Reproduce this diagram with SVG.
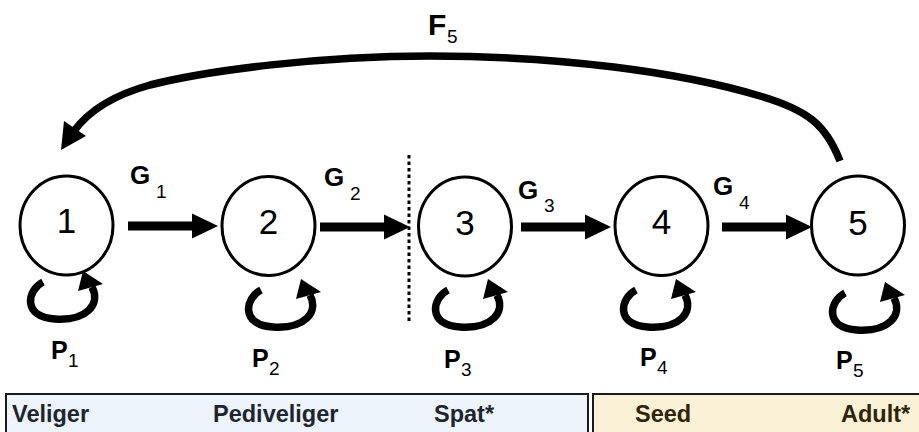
<svg xmlns="http://www.w3.org/2000/svg" xmlns:xlink="http://www.w3.org/1999/xlink" width="919" height="432" viewBox="0 0 919 432">
  <style>
    .node ellipse { fill: #fff; stroke: #000; stroke-width: 3; }
    .node text { font-family: "Liberation Sans", Arial, sans-serif; font-size: 35px; text-anchor: middle; fill: #000; }
    .lbl { font-family: "Liberation Sans", Arial, sans-serif; font-weight: bold; fill: #000; }
    .sub { font-family: "Liberation Sans Narrow", "Liberation Sans", Arial, sans-serif; font-weight: normal; font-size: 19px; fill: #000; }
    .stage { font-family: "Liberation Sans", Arial, sans-serif; font-weight: bold; font-size: 23.5px; }
    .shaft { stroke: #000; stroke-width: 9; fill: none; }
    .loop { stroke: #000; stroke-width: 7.5; fill: none; }
  </style>
  <defs>
    <!-- self-transition loop drawn below a node; origin = loop's upper-left -->
    <g id="selfLoop">
      <path class="loop" d="M18,0 C2,8 -3,35 30,37 C62,39 76,22 67,5"/>
      <polygon points="58,-11 53,9 78,2" fill="#000"/>
    </g>
    <!-- horizontal growth arrow, 90 long, pointing right -->
    <g id="growArrow">
      <line class="shaft" x1="0" y1="0" x2="68" y2="0"/>
      <polygon points="64,-12.5 90,0 64,12.5" fill="#000"/>
    </g>
  </defs>

  <!-- life-stage bands -->
  <g id="stages">
    <rect x="6" y="394" width="582" height="50" fill="#EDF4FC" stroke="#1a1a1a" stroke-width="2"/>
    <rect x="593" y="394" width="340" height="50" fill="#FBF1D6" stroke="#1a1a1a" stroke-width="2"/>
    <text class="stage" x="12" y="422" fill="#1e2530">Veliger</text>
    <text class="stage" x="213" y="422" fill="#1e2530">Pediveliger</text>
    <text class="stage" x="434" y="422" fill="#1e2530">Spat*</text>
    <text class="stage" x="635" y="422" fill="#2e2408">Seed</text>
    <text class="stage" x="841" y="422" fill="#2e2408">Adult*</text>
  </g>

  <!-- dotted divider between pediveliger and spat -->
  <line x1="409" y1="155" x2="409" y2="322" stroke="#000" stroke-width="3" stroke-dasharray="3.5 3"/>

  <g id="connectors">
    <use xlink:href="#growArrow" href="#growArrow" transform="translate(128,226)"/>
    <use xlink:href="#growArrow" href="#growArrow" transform="translate(320,227)"/>
    <use xlink:href="#growArrow" href="#growArrow" transform="translate(521,227)"/>
    <use xlink:href="#growArrow" href="#growArrow" transform="translate(722,227)"/>

    <use xlink:href="#selfLoop" href="#selfLoop" transform="translate(25,282)"/>
    <use xlink:href="#selfLoop" href="#selfLoop" transform="translate(243,290)"/>
    <use xlink:href="#selfLoop" href="#selfLoop" transform="translate(430,290)"/>
    <use xlink:href="#selfLoop" href="#selfLoop" transform="translate(618,290)"/>
    <use xlink:href="#selfLoop" href="#selfLoop" transform="translate(827,293)"/>

    <!-- fecundity arc from adults back to veligers -->
    <path class="loop" d="M840,161 C826,125 808,110 760,96 C680,72 560,56 430,56 C320,56 210,70 150,85 C110,96 88,112 74,131"/>
    <polygon points="61,150 64,121 86,136" fill="#000"/>
  </g>

  <g id="nodes">
    <g id="n1" class="node"><ellipse cx="66.5" cy="225.5" rx="46.5" ry="49.5"/><text x="66.5" y="233">1</text></g>
    <g id="n2" class="node"><ellipse cx="268.5" cy="226" rx="46.5" ry="49.5"/><text x="268.5" y="234">2</text></g>
    <g id="n3" class="node"><ellipse cx="465" cy="226.5" rx="46.5" ry="49.5"/><text x="465" y="235">3</text></g>
    <g id="n4" class="node"><ellipse cx="661.5" cy="226" rx="46.5" ry="49.5"/><text x="661.5" y="234">4</text></g>
    <g id="n5" class="node"><ellipse cx="858" cy="225.5" rx="46.5" ry="49.5"/><text x="858" y="235">5</text></g>
  </g>

  <g id="labels">
    <text class="lbl" x="428" y="35" font-size="30">F<tspan class="sub" x="447" y="43">5</tspan></text>
    <text class="lbl" x="130" y="184" font-size="26">G<tspan class="sub" x="156" y="198">1</tspan></text>
    <text class="lbl" x="324" y="186" font-size="26">G<tspan class="sub" x="350" y="200">2</tspan></text>
    <text class="lbl" x="518" y="199" font-size="26">G<tspan class="sub" x="544" y="212">3</tspan></text>
    <text class="lbl" x="713" y="195" font-size="26">G<tspan class="sub" x="739" y="209">4</tspan></text>
    <text class="lbl" x="51" y="359" font-size="25">P<tspan class="sub" x="68" y="367">1</tspan></text>
    <text class="lbl" x="252" y="367" font-size="25">P<tspan class="sub" x="269" y="375">2</tspan></text>
    <text class="lbl" x="444" y="368" font-size="25">P<tspan class="sub" x="461" y="376">3</tspan></text>
    <text class="lbl" x="640" y="366" font-size="25">P<tspan class="sub" x="657" y="374">4</tspan></text>
    <text class="lbl" x="836" y="369" font-size="25">P<tspan class="sub" x="853" y="377">5</tspan></text>
  </g>
</svg>
